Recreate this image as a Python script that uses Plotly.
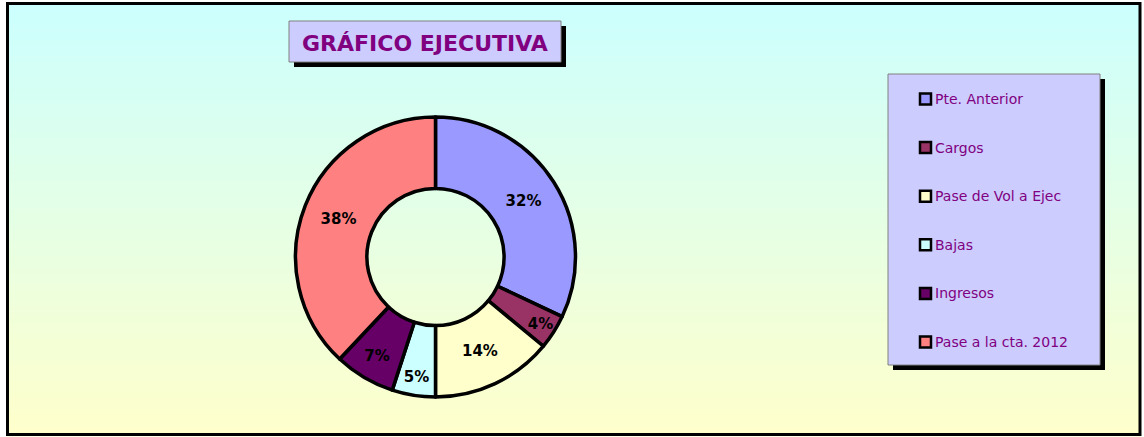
import plotly.graph_objects as go

# ---- data ----
labels = ["Pte. Anterior", "Cargos", "Pase de Vol a Ejec", "Bajas", "Ingresos", "Pase a la cta. 2012"]
values = [32, 4, 14, 5, 7, 38]
colors = ["#9999FF", "#993366", "#FFFFCC", "#CCFFFF", "#660066", "#FF8080"]
title_text = "GRÁFICO EJECUTIVA"

W, H = 1144, 437
FONT = "DejaVu Sans"
PURPLE = "#800080"

def px(x):
    return x / W

def py(y):
    return 1 - y / H

shapes = []

# gradient background (cyan -> light yellow)
n = 80
top, bot = 2, 436
for i in range(n):
    t = i / (n - 1)
    r = int(204 + (255 - 204) * t)
    g = 255
    b = int(255 - (255 - 204) * t)
    y0 = top + (bot - top) * i / n
    y1 = top + (bot - top) * (i + 1) / n + 0.6
    shapes.append(dict(type="rect", xref="paper", yref="paper", layer="below",
                       x0=px(6), x1=px(1141), y0=py(y1), y1=py(y0),
                       fillcolor=f"rgb({r},{g},{b})", line=dict(width=0)))

# frame
shapes.append(dict(type="rect", xref="paper", yref="paper", layer="above",
                   x0=px(7.5), x1=px(1140), y0=py(434.5), y1=py(3.5),
                   line=dict(color="black", width=3), fillcolor="rgba(0,0,0,0)"))

# title box with shadow
shapes.append(dict(type="rect", xref="paper", yref="paper", layer="below",
                   x0=px(294), x1=px(566), y0=py(67), y1=py(26),
                   fillcolor="black", line=dict(width=0)))
shapes.append(dict(type="rect", xref="paper", yref="paper", layer="below",
                   x0=px(289), x1=px(561), y0=py(62), y1=py(21),
                   fillcolor="#CCCCFF", line=dict(color="#808080", width=1)))

# legend box with shadow
shapes.append(dict(type="rect", xref="paper", yref="paper", layer="below",
                   x0=px(893), x1=px(1105), y0=py(370), y1=py(79),
                   fillcolor="black", line=dict(width=0)))
shapes.append(dict(type="rect", xref="paper", yref="paper", layer="below",
                   x0=px(888), x1=px(1100), y0=py(365), y1=py(74),
                   fillcolor="#CCCCFF", line=dict(color="#808080", width=1)))

annotations = [dict(text=f"<b>{title_text}</b>", xref="paper", yref="paper",
                    x=px(425), y=py(43), showarrow=False,
                    font=dict(family=FONT, size=22, color=PURPLE),
                    xanchor="center", yanchor="middle")]

# manual legend
y_first, step = 99, 48.6
for i, (lab, col) in enumerate(zip(labels, colors)):
    yc = y_first + i * step
    shapes.append(dict(type="rect", xref="paper", yref="paper", layer="above",
                       x0=px(920), x1=px(931), y0=py(yc + 5.5), y1=py(yc - 5.5),
                       fillcolor=col, line=dict(color="black", width=2.5)))
    annotations.append(dict(text=lab, xref="paper", yref="paper",
                            x=px(933), y=py(yc), showarrow=False,
                            xanchor="left", yanchor="middle",
                            font=dict(family=FONT, size=14, color=PURPLE)))

cx, cy, R = 435.5, 257, 140
fig = go.Figure(go.Pie(
    labels=labels, values=values, sort=False, direction="clockwise", rotation=0,
    hole=0.49,
    marker=dict(colors=colors, line=dict(color="black", width=3.5)),
    texttemplate="<b>%{percent:.0%}</b>", textposition="inside",
    insidetextorientation="horizontal",
    textfont=dict(family=FONT, size=15, color="black"),
    domain=dict(x=[px(cx - R), px(cx + R)], y=[py(cy + R), py(cy - R)]),
    showlegend=False,
))

fig.update_layout(
    width=W, height=H, margin=dict(l=0, r=0, t=0, b=0),
    paper_bgcolor="white", plot_bgcolor="rgba(0,0,0,0)",
    shapes=shapes, annotations=annotations,
    uniformtext=dict(minsize=15, mode="show"),
    showlegend=False,
)

fig.write_html("out.html", config={"displayModeBar": False},
               post_script="document.body.style.margin='0';document.body.style.padding='0';")
